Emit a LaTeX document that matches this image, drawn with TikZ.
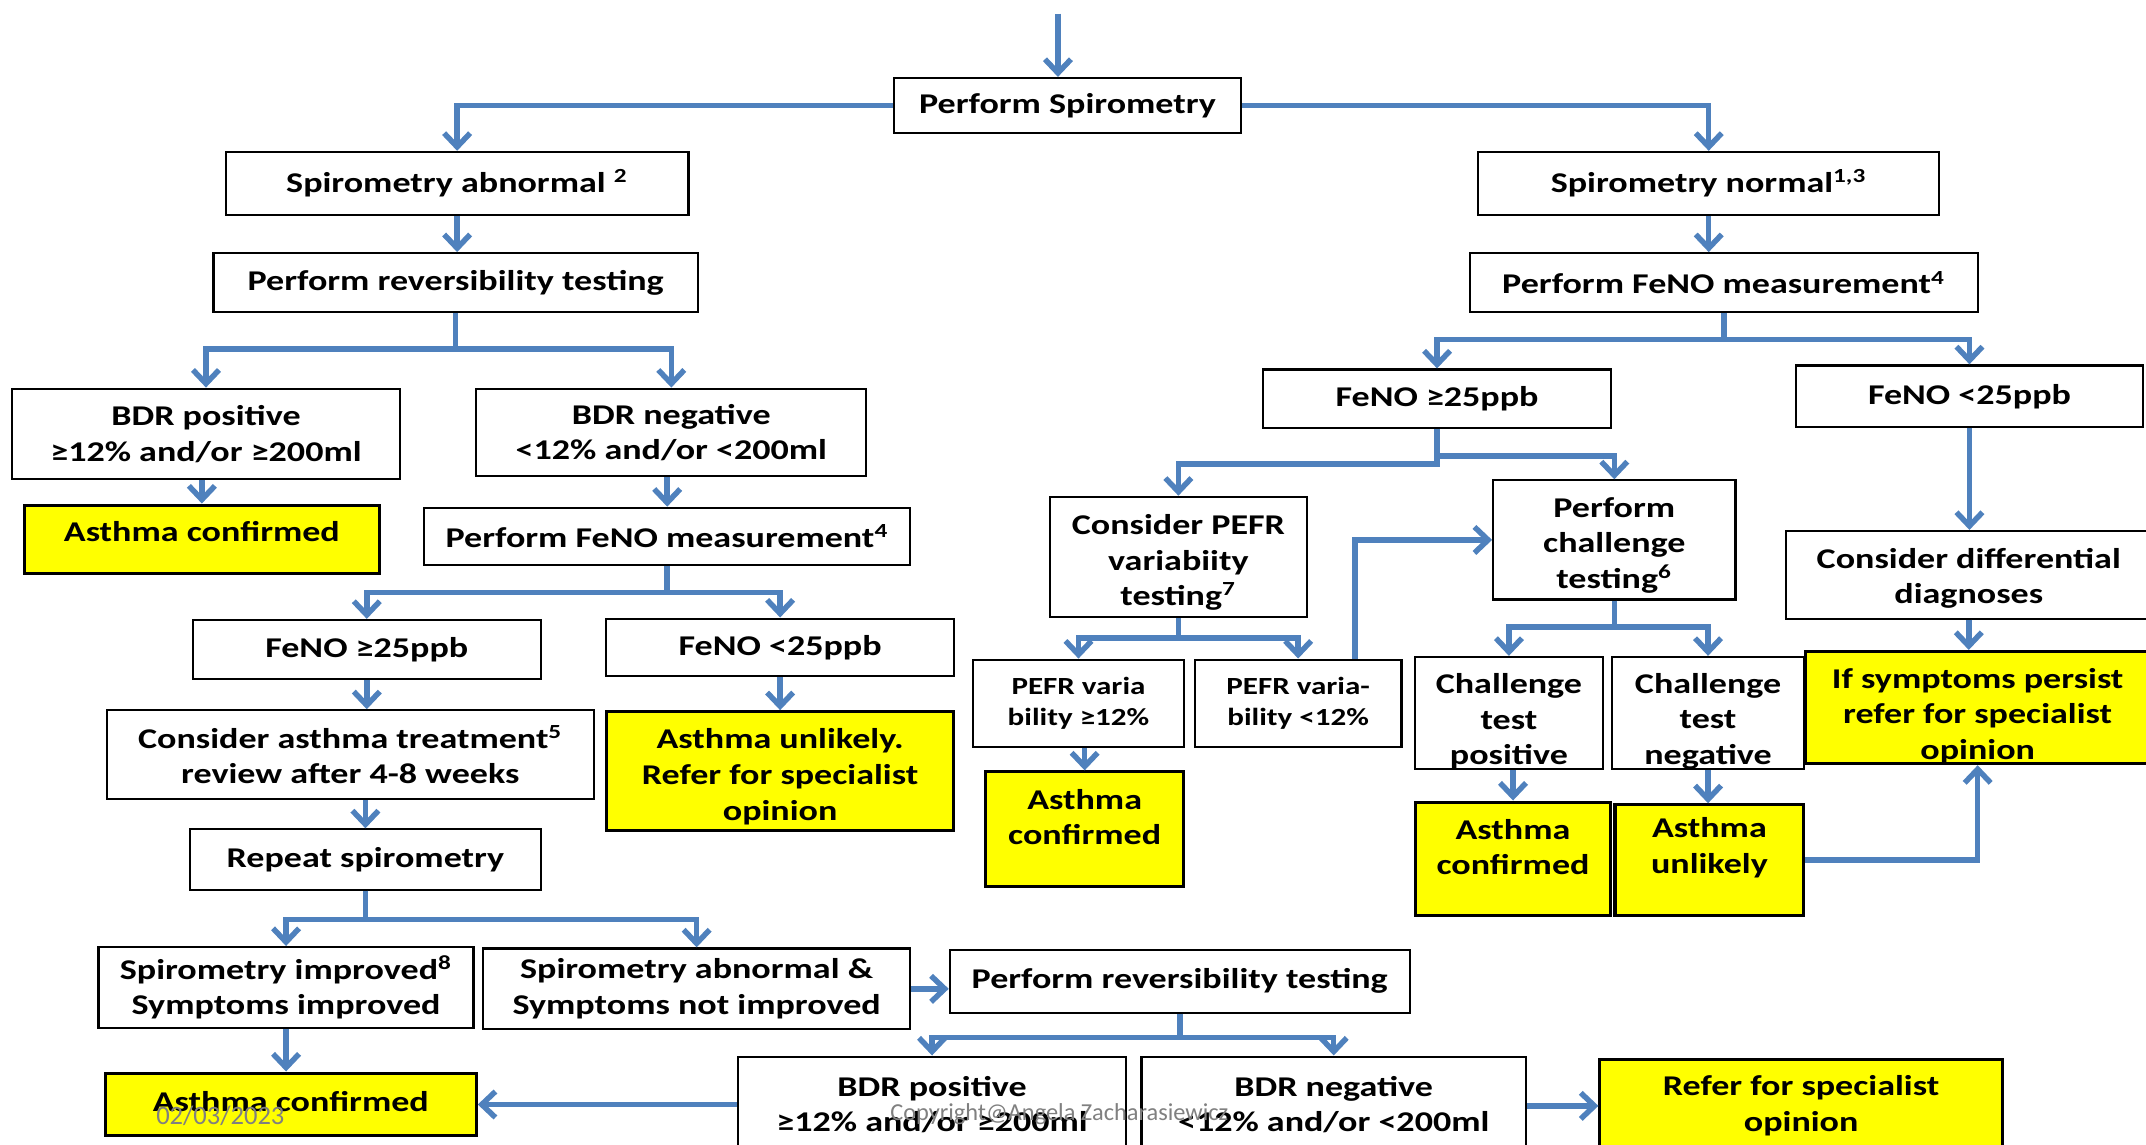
\documentclass[tikz,border=0pt]{standalone}
\usepackage{fontspec}
\setmainfont{Carlito}[FakeStretch=1.26]
\newfontfamily\plainfont{Carlito}
\usetikzlibrary{arrows.meta}
\definecolor{conn}{HTML}{4F81BD}
\definecolor{ylw}{HTML}{FFFF00}
\definecolor{wm}{RGB}{128,128,128}
\newcommand\mybox[7]{\node[#1, minimum width={(#5-#3)*0.5pt}, minimum height={(#6-#4)*0.5pt}] (#2) at ({(#3+#5)/2},{(#4+#6)/2}) {#7};}
\tikzset{
  box/.style={draw=black, line width=0.8pt, fill=white, align=center, inner sep=0pt, font=\bfseries\fontsize{10.45}{13}\selectfont},
  ybox/.style={box, fill=ylw, line width=1.1pt},
  small/.style={font=\bfseries\fontsize{9}{11.5}\selectfont},
  txtl/.style={align=center, inner sep=0pt, font=\bfseries\fontsize{10.45}{13}\selectfont},
  arr/.style={draw=conn, line width=2pt, -{Straight Barb[length=5pt, width=9.5pt]}},
  wmark/.style={text=wm, inner sep=0pt}}
\begin{document}
\begin{tikzpicture}[x=0.5pt, y=-0.5pt]
\useasboundingbox (0,0) rectangle (1568,836);
\clip (0,0) rectangle (1568,836);
% left branch
\mybox{box}{spiro}{653}{57}{907}{97}{Perform Spirometry}
\mybox{box}{abn}{165}{111}{503}{157}{Spirometry abnormal \textsuperscript{2}}
\mybox{box}{rev1}{156}{185}{510}{228}{Perform reversibility testing}
\mybox{box}{bdrp1}{9}{284}{292}{350}{BDR positive\\ ≥12\% and/or ≥200ml}
\mybox{box}{bdrn1}{348}{284}{633}{348}{BDR negative\\ <12\% and/or <200ml}
\mybox{ybox,label={[txtl,yshift=2.75pt]center:{Asthma confirmed}}}{ac1}{18}{369}{277}{419}{}
\mybox{box}{feno1}{310}{371}{665}{413}{Perform FeNO measurement\textsuperscript{4}}
\mybox{box}{fh1}{141}{453}{395}{496}{FeNO ≥25ppb}
\mybox{box}{fl1}{443}{452}{697}{494}{FeNO <25ppb}
\mybox{box}{treat}{78}{519}{434}{584}{Consider asthma treatment\textsuperscript{5}\\review after 4-8 weeks}
\mybox{ybox,label={[txtl,yshift=-2pt]center:{Asthma unlikely.\\Refer for specialist\\opinion}}}{au1}{443}{520}{697}{607}{}
\mybox{box}{rep}{139}{606}{395}{650}{Repeat spirometry}
\mybox{box}{simp}{72}{692}{346}{751}{Spirometry improved\textsuperscript{8}\\Symptoms improved}
\mybox{box}{sabn}{353}{693}{665}{752}{Spirometry abnormal \&\\Symptoms not improved}
\mybox{box}{rev2}{694}{694}{1030}{740}{Perform reversibility testing}
\mybox{box}{bdrp2}{539}{772}{823}{842}{BDR positive\\≥12\% and/or ≥200ml}
\mybox{box}{bdrn2}{834}{772}{1115}{842}{BDR negative\\<12\% and/or <200ml}
\mybox{ybox,label={[txtl,yshift=1.25pt]center:{Asthma confirmed}}}{ac3}{77}{784}{348}{830}{}
\mybox{ybox}{ref}{1169}{774}{1463}{842}{Refer for specialist\\opinion}
% right branch
\mybox{box}{norm}{1080}{111}{1417}{157}{Spirometry normal\textsuperscript{1,3}}
\mybox{box}{feno2}{1074}{185}{1445}{228}{Perform FeNO measurement\textsuperscript{4}}
\mybox{box}{fh2}{923}{270}{1177}{313}{FeNO ≥25ppb}
\mybox{box}{fl2}{1312}{267}{1566}{312}{FeNO <25ppb}
\mybox{box,label={[txtl,yshift=-2pt]center:{Consider PEFR\\variabiity\\testing\textsuperscript{7}}}}{pefr}{767}{363}{955}{451}{}
\mybox{box,label={[txtl,yshift=-2pt]center:{Perform\\challenge\\testing\textsuperscript{6}}}}{chal}{1091}{351}{1268}{438}{}
\mybox{box,small}{ph}{711}{482}{865}{546}{PEFR varia\\bility ≥12\%}
\mybox{box,small}{pl}{873}{482}{1024}{546}{PEFR varia-\\bility <12\%}
\mybox{ybox,label={[txtl,yshift=4.5pt]center:{Asthma\\confirmed}}}{ac2}{720}{564}{865}{648}{}
\mybox{box,label={[txtl,yshift=-3pt]center:{Challenge\\test\\positive}}}{cp}{1034}{480}{1171}{562}{}
\mybox{box,label={[txtl,yshift=-3pt]center:{Challenge\\test\\negative}}}{cn}{1178}{480}{1318}{562}{}
\mybox{ybox,label={[txtl,yshift=4.25pt]center:{Asthma\\confirmed}}}{ac4}{1034}{586}{1177}{669}{}
\mybox{ybox,label={[txtl,yshift=4.5pt]center:{Asthma\\unlikely}}}{au2}{1180}{588}{1318}{669}{}
\mybox{box,label={[txtl,yshift=-1.25pt]center:{Consider differential\\diagnoses}}}{diff}{1305}{388}{1572}{452}{}
\mybox{ybox,label={[txtl,yshift=-3pt]center:{If symptoms persist\\refer for specialist\\opinion}}}{persist}{1319}{476}{1571}{558}{}
% connectors left
\coordinate (start) at (773,10);
\draw[arr] (start) -- (start |- spiro.north);
\draw[arr] (spiro.west) -| (abn.north);
\draw[arr] (spiro.east) -| (norm.north);
\draw[arr] (abn.south) -- (abn.south |- rev1.north);
\draw[arr] (rev1.south) |- (bdrp1.north |- 0,255) -- (bdrp1.north);
\draw[arr] (rev1.south) |- (bdrn1.north |- 0,255) -- (bdrn1.north);
\draw[arr] (ac1.north |- bdrp1.south) -- (ac1.north);
\draw[arr] (feno1.north |- bdrn1.south) -- (feno1.north);
\draw[arr] (feno1.south) |- (fh1.north |- 0,433) -- (fh1.north);
\draw[arr] (feno1.south) |- (fl1.north |- 0,433) -- (fl1.north);
\draw[arr] (fh1.south) -- (fh1.south |- treat.north);
\draw[arr] (fl1.south) -- (au1.north);
\draw[arr] (rep.north |- treat.south) -- (rep.north);
\draw[arr] (rep.south) |- (simp.north |- 0,672) -- (simp.north);
\draw[arr] (rep.south) |- (sabn.north |- 0,672) -- (sabn.north);
\draw[arr] (simp.south) -- (simp.south |- ac3.north);
\draw[arr] (sabn.east) -- (sabn.east -| rev2.west);
\draw[arr] (rev2.south) |- (bdrp2.north |- 0,758) -- (bdrp2.north);
\draw[arr] (rev2.south) |- (bdrn2.north |- 0,758) -- (bdrn2.north);
\draw[arr] (bdrp2.west |- ac3.east) -- (ac3.east);
\draw[arr] (bdrn2.east |- ref.west) -- (ref.west);
% connectors right
\draw[arr] (norm.south) -- (norm.south |- feno2.north);
\draw[arr] (feno2.south) |- (fh2.north |- 0,248) -- (fh2.north);
\draw[arr] (feno2.south) |- (fl2.north |- 0,248) -- (fl2.north);
\draw[arr] (fh2.south) |- (pefr.north |- 0,339) -- (pefr.north);
\draw[arr] (fh2.south) |- (chal.north |- 0,333) -- (chal.north);
\draw[arr] (pefr.south) |- (ph.north |- 0,466) -- (ph.north);
\draw[arr] (pefr.south) |- (pl.north |- 0,466) -- (pl.north);
\draw[arr] (ac2.north |- ph.south) -- (ac2.north);
\draw[arr] (pl.north -| 990,0) |- (chal.west);
\draw[arr] (chal.south) |- (cp.north |- 0,458) -- (cp.north);
\draw[arr] (chal.south) |- (cn.north |- 0,458) -- (cn.north);
\draw[arr] (ac4.north |- cp.south) -- (ac4.north);
\draw[arr] (cn.south) -- (cn.south |- au2.north);
\draw[arr] (au2.east) -| (persist.south);
\draw[arr] (fl2.south) -- (fl2.south |- diff.north);
\draw[arr] (diff.south) -- (diff.south |- persist.north);
% footer texts
\node[wmark, font=\plainfont\fontsize{9.7}{11}\selectfont] (date) at (161,815) {02/03/2023};
\node[wmark, font=\plainfont\fontsize{8.9}{11}\selectfont] (copy) at (774,814) {Copyright@Angela Zacharasiewicz};
\end{tikzpicture}
\end{document}
